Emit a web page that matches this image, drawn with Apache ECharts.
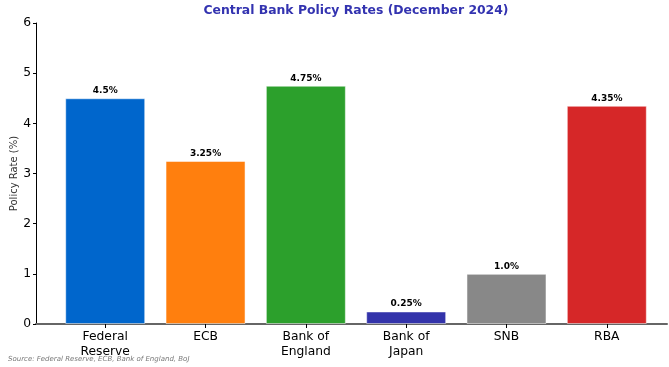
<!DOCTYPE html>
<html>
<head>
<meta charset="utf-8">
<script src="https://cdn.jsdelivr.net/npm/echarts@6/dist/echarts.min.js"></script>
<style>
  html, body { margin: 0; padding: 0; background: #fff; }
  #chart { width: 669px; height: 367px; }
</style>
</head>
<body>
<div id="chart"></div>
<script>
// chart data
const banks = ['Federal\nReserve', 'ECB', 'Bank of\nEngland', 'Bank of\nJapan', 'SNB', 'RBA']
const rates = [4.5, 3.25, 4.75, 0.25, 1.0, 4.35]
const rateLabels = ['4.5%', '3.25%', '4.75%', '0.25%', '1.0%', '4.35%']
const barColors = ['#0066cc', '#ff7f0e', '#2ca02c', '#3333aa', '#888888', '#d62728']
const yTicks = [0, 1, 2, 3, 4, 5, 6]

const font = 'DejaVu Sans'
const chart = echarts.init(document.getElementById('chart'))

const option = {
  animation: false,
  title: {
    text: 'Central Bank Policy Rates (December 2024)',
    left: 356,
    top: 5,
    padding: 0,
    textAlign: 'center',
    textStyle: { fontFamily: font, fontSize: 12.4, fontWeight: 'bold', color: '#3333b0' }
  },
  graphic: [{
    type: 'text',
    left: 8,
    top: 356,
    style: {
      text: 'Source: Federal Reserve, ECB, Bank of England, BoJ',
      fontFamily: font, fontSize: 7, fontStyle: 'italic', fill: '#777'
    }
  }],
  grid: { left: 36, right: 2, top: 23, bottom: 43, outerBoundsMode: 'none', containLabel: false },
  xAxis: {
    type: 'value',
    min: -0.69,
    max: 5.6,
    splitLine: { show: false },
    axisLine: { show: true, onZero: false, lineStyle: { color: '#666', width: 2 } },
    axisTick: {
      show: true, customValues: banks.map((b, i) => i), length: 4,
      lineStyle: { color: '#000' }
    },
    axisLabel: {
      customValues: banks.map((b, i) => i),
      formatter: v => banks[Math.round(v)] || '',
      fontFamily: font, fontSize: 12.3, color: '#000', lineHeight: 15, margin: 5
    }
  },
  yAxis: {
    type: 'value',
    min: 0,
    max: 6,
    interval: 1,
    name: 'Policy Rate (%)',
    nameLocation: 'middle',
    nameGap: 17,
    nameMoveOverlap: false,
    nameTextStyle: { fontFamily: font, fontSize: 10, color: '#333' },
    splitLine: { show: false },
    axisLine: { show: true, onZero: false, lineStyle: { color: '#000', width: 1 } },
    axisTick: { show: true, length: 3, lineStyle: { color: '#000' } },
    axisLabel: {
      fontFamily: font, fontSize: 12.3, color: '#000', margin: 5,
      formatter: v => yTicks.includes(v) ? String(v) : ''
    }
  },
  series: [{
    type: 'bar',
    barWidth: 80,
    data: rates.map((v, i) => ({
      value: [i, v],
      itemStyle: { color: barColors[i], borderColor: 'rgba(255,255,255,0.5)', borderWidth: 1 }
    })),
    label: {
      show: true,
      position: 'top',
      distance: 3,
      formatter: p => rateLabels[p.dataIndex],
      fontFamily: font, fontSize: 9, fontWeight: 'bold', color: '#000'
    }
  }]
}

chart.setOption(option)
</script>
</body>
</html>
